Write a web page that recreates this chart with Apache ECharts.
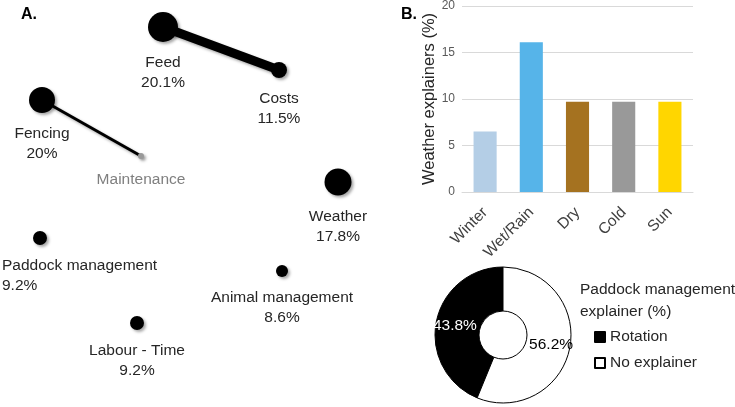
<!DOCTYPE html>
<html>
<head>
<meta charset="utf-8">
<script src="https://cdn.jsdelivr.net/npm/echarts@6/dist/echarts.min.js"></script>
<style>
  html, body { margin: 0; padding: 0; background: #fff; }
  #chart { width: 735px; height: 407px; }
</style>
</head>
<body>
<div id="chart"></div>
<script>
// panel A: themes with their share
const themeNames = ['Feed', 'Costs', 'Fencing', 'Maintenance', 'Weather', 'Paddock management', 'Animal management', 'Labour - Time'];
const themeShares = ['20.1%', '11.5%', '20%', '', '17.8%', '9.2%', '8.6%', '9.2%'];
const themeLinks = [['Feed', 'Costs'], ['Fencing', 'Maintenance']];

// layout of the map (x, y in map units, bubble diameter)
const mapX = [163, 279, 42, 141, 338, 40, 282, 137];
const mapY = [27, 70, 100, 156, 182, 238, 271, 323];
const bubbleSize = [30, 16, 26, 6, 27, 14, 12, 14];
const linkWidth = [9, 3];

// panel B: weather explainers
const weatherCats = ['Winter', 'Wet/Rain', 'Dry', 'Cold', 'Sun'];
const weatherValues = [6.5, 16.1, 9.7, 9.7, 9.7];
const weatherTicks = [0, 5, 10, 15, 20];
const weatherColors = ['#b4cee6', '#56b4e9', '#a57220', '#999999', '#ffd600'];

// panel B: paddock management explainer
const paddockNames = ['Rotation', 'No explainer'];
const paddockValues = [43.8, 56.2];

const font = 'Liberation Sans, Arial, sans-serif';
const shadow = { shadowBlur: 3, shadowOffsetX: 2, shadowOffsetY: 2, shadowColor: 'rgba(0,0,0,0.35)' };

var chart = echarts.init(document.getElementById('chart'));

const nodes = themeNames.map((name, i) => {
	const grey = name === 'Maintenance';
	const node = {
		name: name,
		value: [mapX[i], mapY[i]],
		symbolSize: bubbleSize[i],
		itemStyle: Object.assign({ color: grey ? '#999999' : '#000000' }, shadow),
		label: {
			show: true,
			position: 'bottom',
			distance: 11,
			color: grey ? '#7f7f7f' : '#262626',
			formatter: themeShares[i] ? name + '\n' + themeShares[i] : name
		}
	};
	if (name === 'Paddock management') {
		node.label.align = 'left';
		node.label.offset = [-38, 0];
	}
	return node;
});

const links = themeLinks.map((l, i) => ({
	source: l[0],
	target: l[1],
	lineStyle: Object.assign({ width: linkWidth[i], color: '#000', opacity: 1 }, shadow)
}));

const option = {
	animation: false,
	textStyle: { fontFamily: font },
	title: [
		{ text: 'A.', left: 16, top: 2, textStyle: { fontSize: 16, fontWeight: 'bold', color: '#000', fontFamily: font } },
		{ text: 'B.', left: 396, top: 2, textStyle: { fontSize: 16, fontWeight: 'bold', color: '#000', fontFamily: font } },
		{
			text: 'Paddock management\nexplainer (%)', left: 575, top: 274,
			textStyle: { fontSize: 15.5, fontWeight: 'normal', color: '#262626', lineHeight: 22, fontFamily: font }
		}
	],
	grid: [
		{ left: 0, top: 0, width: 370, height: 407 },
		{ left: 462, top: 5, width: 231, height: 187 }
	],
	xAxis: [
		{ gridIndex: 0, type: 'value', min: 0, max: 370, show: false },
		{
			gridIndex: 1, type: 'category', data: weatherCats,
			axisLine: { lineStyle: { color: '#d9d9d9' } },
			axisTick: { show: false },
			axisLabel: { rotate: 45, margin: 18, fontSize: 15.5, color: '#404040', interval: 0 }
		}
	],
	yAxis: [
		{ gridIndex: 0, type: 'value', min: 0, max: 407, inverse: true, show: false },
		{
			gridIndex: 1, type: 'value', min: weatherTicks[0], max: weatherTicks[weatherTicks.length - 1], interval: 5,
			name: 'Weather explainers (%)', nameLocation: 'middle', nameGap: 23,
			nameTextStyle: { fontSize: 16.5, color: '#262626' },
			axisLine: { show: false },
			axisTick: { show: false },
			axisLabel: { fontSize: 12, color: '#595959', margin: 7 },
			splitLine: { lineStyle: { color: '#d9d9d9' } }
		}
	],
	legend: {
		orient: 'vertical', left: 589, top: 324,
		itemWidth: 10, itemHeight: 10, itemGap: 10,
		icon: 'rect',
		data: paddockNames,
		textStyle: { fontSize: 15.5, color: '#262626' }
	},
	series: [
		{
			type: 'graph',
			coordinateSystem: 'cartesian2d',
			xAxisIndex: 0, yAxisIndex: 0,
			layout: 'none',
			silent: true,
			label: { fontSize: 15.5, lineHeight: 20 },
			data: nodes,
			links: links
		},
		{
			type: 'bar',
			xAxisIndex: 1, yAxisIndex: 1,
			barWidth: '50%',
			silent: true,
			data: weatherValues.map((v, i) => ({ value: v, itemStyle: { color: weatherColors[i] } }))
		},
		{
			type: 'pie',
			center: [503, 335],
			radius: [24, 68],
			startAngle: 90,
			clockwise: false,
			silent: true,
			itemStyle: { borderColor: '#000', borderWidth: 1 },
			label: { show: true, position: 'inside', formatter: '{c}%', fontSize: 15.5 },
			labelLine: { show: false },
			data: paddockNames.map((n, i) => ({
				name: n,
				value: paddockValues[i],
				itemStyle: { color: i === 0 ? '#000' : '#fff' },
				label: { color: i === 0 ? '#fff' : '#000' }
			}))
		}
	]
};

chart.setOption(option, true);
</script>
</body>
</html>
